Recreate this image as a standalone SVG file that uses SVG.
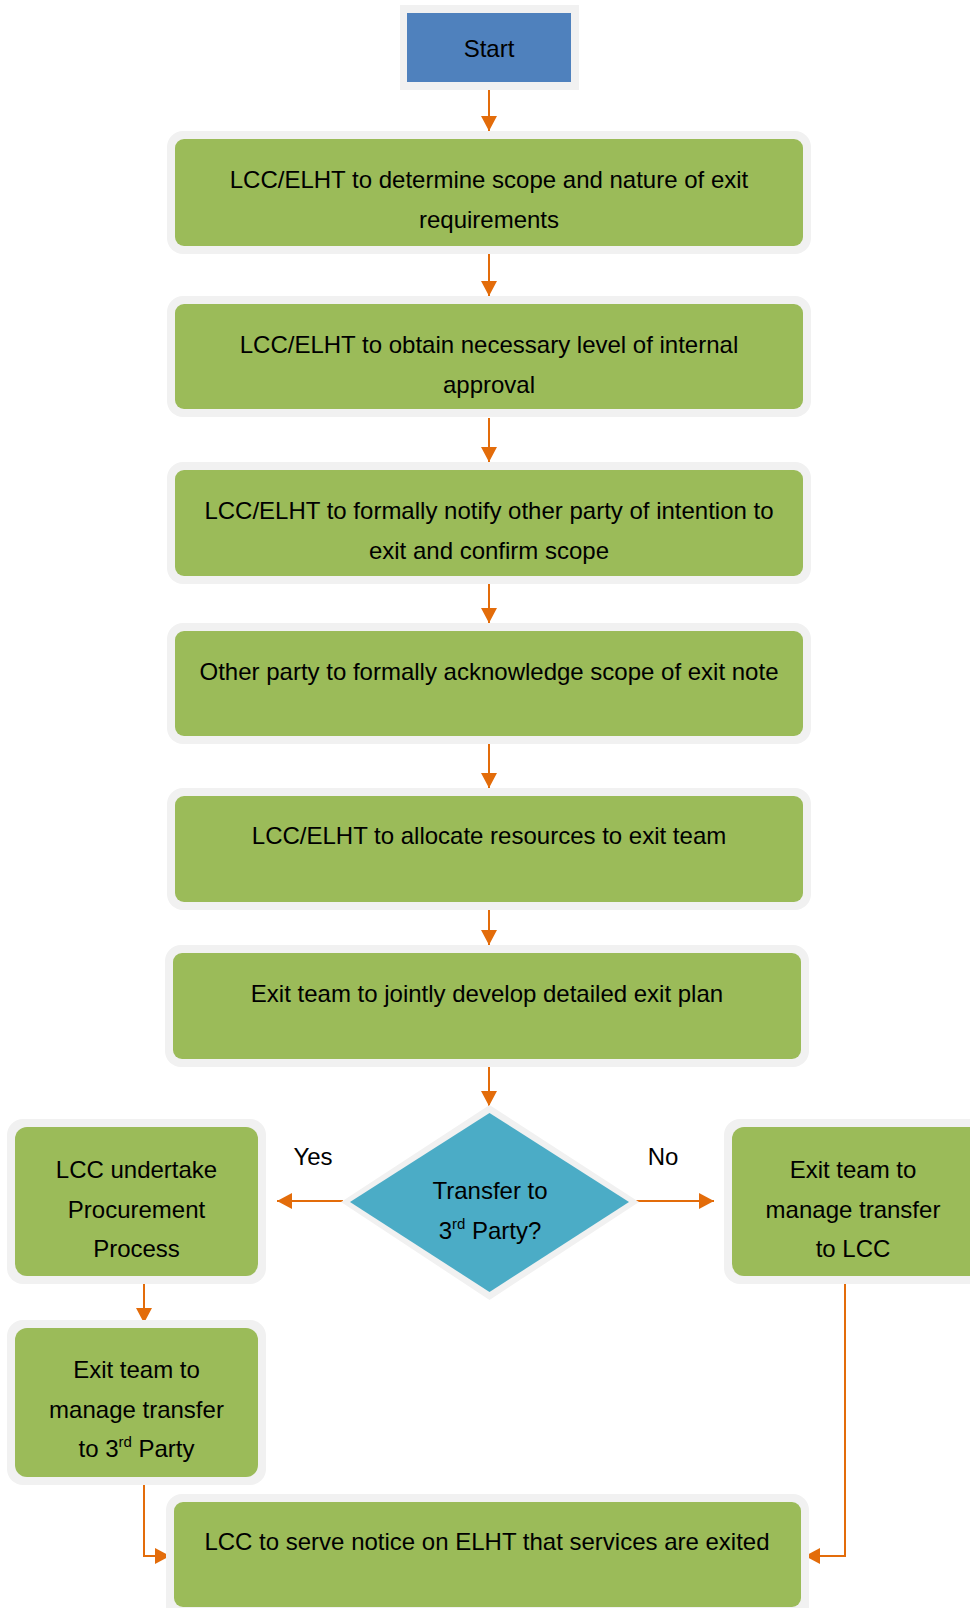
<svg xmlns="http://www.w3.org/2000/svg" width="970" height="1608" viewBox="0 0 970 1608">
<style>
.halo{fill:#F1F1F1}
.box{fill:#9BBB59}
.t{font-family:"Liberation Sans",Arial,sans-serif;font-size:24px;fill:#000;text-anchor:middle}
.sup{font-size:15px}
.con{fill:none;stroke:#E36C0A;stroke-width:2}
</style>
<defs>
<marker id="ah" markerUnits="userSpaceOnUse" markerWidth="15" markerHeight="16" viewBox="0 0 15 16" refX="15" refY="8" orient="auto">
<path d="M0,0 L15,8 L0,16 z" fill="#E36C0A"/>
</marker>
</defs>
<rect width="970" height="1608" fill="#fff"/>

<g id="connectors">
<path class="con" d="M489 90 V131" marker-end="url(#ah)"/>
<path class="con" d="M489 254 V296" marker-end="url(#ah)"/>
<path class="con" d="M489 418 V462" marker-end="url(#ah)"/>
<path class="con" d="M489 584 V623" marker-end="url(#ah)"/>
<path class="con" d="M489 744 V788" marker-end="url(#ah)"/>
<path class="con" d="M489 910 V945" marker-end="url(#ah)"/>
<path class="con" d="M489 1067 V1106" marker-end="url(#ah)"/>
<path class="con" d="M343 1201 H277" marker-end="url(#ah)"/>
<path class="con" d="M636 1201 H714" marker-end="url(#ah)"/>
<path class="con" d="M144 1280 V1323" marker-end="url(#ah)"/>
<path class="con" d="M144 1480 V1556 H170" marker-end="url(#ah)"/>
<path class="con" d="M845 1279 V1556 H805" marker-end="url(#ah)"/>
</g>

<g id="start">
<rect x="400" y="5" width="179" height="85" fill="#F1F1F1"/>
<rect x="407" y="13" width="164" height="69" fill="#4F81BD"/>
<text class="t" x="489" y="57">Start</text>
</g>

<g id="n1">
<rect class="halo" x="167" y="131" width="644" height="123" rx="16"/>
<rect class="box" x="175" y="139" width="628" height="107" rx="9"/>
<text class="t" x="489" y="188">LCC/ELHT to determine scope and nature of exit</text>
<text class="t" x="489" y="228">requirements</text>
</g>

<g id="n2">
<rect class="halo" x="167" y="296" width="644" height="121" rx="16"/>
<rect class="box" x="175" y="304" width="628" height="105" rx="9"/>
<text class="t" x="489" y="352.5">LCC/ELHT to obtain necessary level of internal</text>
<text class="t" x="489" y="392.5">approval</text>
</g>

<g id="n3">
<rect class="halo" x="167" y="462" width="644" height="122" rx="16"/>
<rect class="box" x="175" y="470" width="628" height="106" rx="9"/>
<text class="t" x="489" y="519">LCC/ELHT to formally notify other party of intention to</text>
<text class="t" x="489" y="559">exit and confirm scope</text>
</g>

<g id="n4">
<rect class="halo" x="167" y="623" width="644" height="121" rx="16"/>
<rect class="box" x="175" y="631" width="628" height="105" rx="9"/>
<text class="t" x="489" y="679.5">Other party to formally acknowledge scope of exit note</text>
</g>

<g id="n5">
<rect class="halo" x="167" y="788" width="644" height="122" rx="16"/>
<rect class="box" x="175" y="796" width="628" height="106" rx="9"/>
<text class="t" x="489" y="843.5">LCC/ELHT to allocate resources to exit team</text>
</g>

<g id="n6">
<rect class="halo" x="165" y="945" width="644" height="122" rx="16"/>
<rect class="box" x="173" y="953" width="628" height="106" rx="9"/>
<text class="t" x="487" y="1001.5">Exit team to jointly develop detailed exit plan</text>
</g>

<g id="decision">
<polygon points="489.5,1105 639,1202 489.5,1300 341,1202" fill="#F1F1F1"/>
<polygon points="489.5,1113 629,1202 489.5,1292 350,1202" fill="#4BACC6"/>
<text class="t" x="490" y="1198.5">Transfer to</text>
<text class="t" x="490" y="1238.5">3<tspan class="sup" dy="-10">rd</tspan><tspan dy="10"> Party?</tspan></text>
</g>

<g id="labels">
<text class="t" x="313" y="1165">Yes</text>
<text class="t" x="663" y="1165">No</text>
</g>

<g id="n7">
<rect class="halo" x="7" y="1119" width="259" height="165" rx="16"/>
<rect class="box" x="15" y="1127" width="243" height="149" rx="12"/>
<text class="t" x="136.5" y="1177.5">LCC undertake</text>
<text class="t" x="136.5" y="1217.5">Procurement</text>
<text class="t" x="136.5" y="1256.5">Process</text>
</g>

<g id="n8">
<rect class="halo" x="724" y="1119" width="270" height="165" rx="16"/>
<rect class="box" x="732" y="1127" width="254" height="149" rx="12"/>
<text class="t" x="853" y="1177.5">Exit team to</text>
<text class="t" x="853" y="1217.5">manage transfer</text>
<text class="t" x="853" y="1256.5">to LCC</text>
</g>

<g id="n9">
<rect class="halo" x="7" y="1320" width="259" height="165" rx="16"/>
<rect class="box" x="15" y="1328" width="243" height="149" rx="12"/>
<text class="t" x="136.5" y="1377.5">Exit team to</text>
<text class="t" x="136.5" y="1417.5">manage transfer</text>
<text class="t" x="136.5" y="1456.5">to 3<tspan class="sup" dy="-10">rd</tspan><tspan dy="10"> Party</tspan></text>
</g>

<g id="n10">
<rect class="halo" x="166" y="1494" width="643" height="130" rx="16"/>
<rect class="box" x="174" y="1502" width="627" height="105" rx="9"/>
<text class="t" x="487" y="1550">LCC to serve notice on ELHT that services are exited</text>
</g>
</svg>
